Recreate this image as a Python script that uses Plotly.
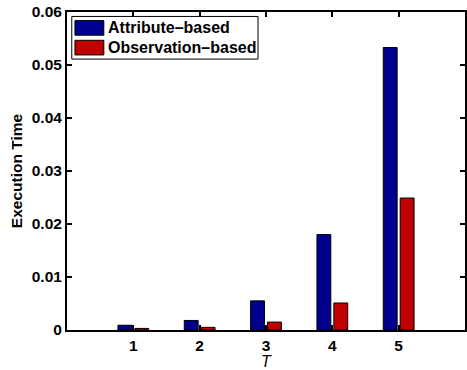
import plotly.graph_objects as go

categories = [1, 2, 3, 4, 5]
attribute_based = [0.0009, 0.0018, 0.0055, 0.0180, 0.0533]
observation_based = [0.0003, 0.0005, 0.0015, 0.0051, 0.0249]
series_names = ["Attribute-based", "Observation-based"]
series_colors = ["#00008F", "#C00000"]
y_ticks = [0, 0.01, 0.02, 0.03, 0.04, 0.05, 0.06]
y_ticktext = ["0", "0.01", "0.02", "0.03", "0.04", "0.05", "0.06"]

FAM = "Liberation Sans, Arial, Helvetica"
font = dict(family=FAM, size=15, color="black")

fig = go.Figure()
for name, vals, col in zip(series_names, [attribute_based, observation_based], series_colors):
    fig.add_trace(go.Bar(x=categories, y=vals, name=name, marker=dict(color=col, line=dict(color="black", width=1)),
                         showlegend=False))

axis_common = dict(showline=True, linecolor="black", linewidth=2, mirror="ticks", ticks="inside",
                   ticklen=5, tickwidth=2, tickcolor="black", showgrid=False, zeroline=False,
                   tickfont=dict(family=FAM, size=15.5, color="black", weight="bold"))

fig.update_layout(
    width=467, height=370,
    margin=dict(l=67, r=0, t=12, b=40),
    paper_bgcolor="white", plot_bgcolor="white",
    barmode="group", bargap=0.49, bargroupgap=0.18,
    font=font,
    xaxis=dict(range=[0, 6], tickvals=categories, ticktext=[str(c) for c in categories],
               title=dict(text="<i>T</i>", standoff=0,
                          font=dict(family=FAM, size=16, color="black")),
               **axis_common),
    yaxis=dict(range=[0, 0.06], tickvals=y_ticks, ticktext=y_ticktext,
               title=dict(text="<b>Execution Time</b>", standoff=5,
                          font=dict(family=FAM, size=15.5, color="black")),
               **axis_common),
)

# custom legend box (MATLAB style)
shapes = [dict(type="rect", xref="paper", yref="paper", x0=0.012, x1=0.48, y0=0.852, y1=0.986,
               line=dict(color="black", width=1), fillcolor="white")]
annotations = []
for i, (name, col) in enumerate(zip(series_names, series_colors)):
    yc = 0.950 - i * 0.062
    shapes.append(dict(type="rect", xref="paper", yref="paper", x0=0.02, x1=0.0925, y0=yc - 0.023, y1=yc + 0.023,
                       line=dict(color="black", width=1), fillcolor=col))
    annotations.append(dict(xref="paper", yref="paper", x=0.098, y=yc, xanchor="left", yanchor="middle",
                            text="<b>" + name.replace("-", "\u2013") + "</b>", showarrow=False,
                            font=dict(family=FAM, size=16, color="black")))
fig.update_layout(shapes=shapes, annotations=annotations)

fig.write_html("out.html")
